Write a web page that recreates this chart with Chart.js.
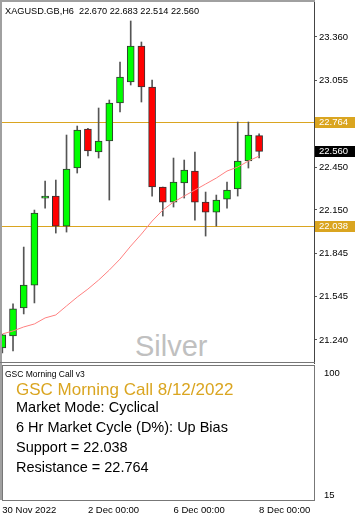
<!DOCTYPE html>
<html>
<head>
<meta charset="utf-8">
<script src="https://cdn.jsdelivr.net/npm/chart.js@4.4.1/dist/chart.umd.min.js"></script>
<style>
  html, body { margin: 0; padding: 0; background: #fff; }
  #wrap { position: relative; width: 355px; height: 516px; overflow: hidden; font-family: "Liberation Sans", Arial, sans-serif; }
  canvas { position: absolute; left: 0; }
  .t { position: absolute; white-space: nowrap; }
</style>
</head>
<body>
<div id="wrap">
  <div class="t" style="left:135px; top:331px; font-size:29px; line-height:30px; color:#c0c0c0;">Silver</div>
  <canvas id="price" width="355" height="364" style="top:0"></canvas>
  <canvas id="ind" width="355" height="152" style="top:364px"></canvas>
  <div class="t" style="left:5px; top:5px; font-size:9.2px; line-height:12px; color:#000;">XAGUSD.GB,H6&nbsp; 22.670 22.683 22.514 22.560</div>
  <div class="t" style="left:5px; top:369px; font-size:8.5px; line-height:10px; color:#000;">GSC Morning Call v3</div>
  <div class="t" style="left:16px; top:380px; font-size:17px; line-height:20px; color:#DAA520;">GSC Morning Call 8/12/2022</div>
  <div class="t" style="left:16px; top:397px; font-size:14.5px; line-height:20px; color:#000;">Market Mode: Cyclical</div>
  <div class="t" style="left:16px; top:417px; font-size:14.5px; line-height:20px; color:#000;">6 Hr Market Cycle (D%): Up Bias</div>
  <div class="t" style="left:16px; top:437px; font-size:14.5px; line-height:20px; color:#000;">Support = 22.038</div>
  <div class="t" style="left:16px; top:457px; font-size:14.5px; line-height:20px; color:#000;">Resistance = 22.764</div>
</div>
<script>
// XAGUSD H6 candles, 30 Nov - 8 Dec 2022
const opens  = [21.184, 21.268, 21.464, 21.624, 22.233, 22.247, 22.037, 22.443, 22.716, 22.555, 22.632, 22.898, 23.045,
                23.297, 23.010, 22.310, 22.205, 22.338, 22.422, 22.205, 22.135, 22.226, 22.296, 22.492, 22.670];
const highs  = [21.280, 21.492, 21.890, 22.149, 22.352, 22.359, 22.674, 22.737, 22.720, 22.863, 22.919, 23.185, 23.472,
                23.325, 23.059, 22.310, 22.513, 22.499, 22.555, 22.275, 22.254, 22.345, 22.765, 22.765, 22.683];
const lows   = [21.149, 21.163, 21.422, 21.499, 22.163, 21.988, 21.995, 22.408, 22.527, 22.513, 22.219, 22.835, 23.024,
                22.905, 22.247, 22.107, 22.170, 22.233, 22.079, 21.967, 22.037, 22.163, 22.247, 22.443, 22.514];
const closes = [21.275, 21.457, 21.624, 22.128, 22.247, 22.037, 22.436, 22.709, 22.562, 22.632, 22.898, 23.080, 23.297,
                23.010, 22.310, 22.205, 22.345, 22.429, 22.205, 22.135, 22.219, 22.289, 22.492, 22.674, 22.560];
// moving average (red line)
const maValues = [21.282, 21.303, 21.331, 21.352, 21.394, 21.415, 21.478, 21.540, 21.596, 21.659, 21.729, 21.806, 21.897,
                  21.981, 22.072, 22.149, 22.205, 22.247, 22.289, 22.331, 22.373, 22.422, 22.450, 22.492, 22.527];

const priceTicks = [23.360, 23.055, 22.450, 22.150, 21.845, 21.545, 21.240];
const timeTickIdx = [0, 8, 16, 24];
const timeTickLabels = ['30 Nov 2022', '2 Dec 00:00', '6 Dec 00:00', '8 Dec 00:00'];
const indTicks = [100, 15];

const resistance = 22.764;
const support = 22.038;
const lastPrice = 22.560;

const GOLD = '#DAA520';
const FONT = 'Liberation Sans';
const X_MIN = -0.03, X_MAX = 29.13;

const bodies = opens.map((o, i) => ({ x: i, y: [o, closes[i]] }));
const wicks = lows.map((l, i) => ({ x: i, y: [l, highs[i]] }));
const ma = maValues.map((v, i) => ({ x: i, y: v }));
const bodyColors = opens.map((o, i) => closes[i] >= o ? '#00FF00' : '#FF0000');

// keep the plot area where layout.padding puts it
function noPad(s) {
  s.paddingTop = 0; s.paddingBottom = 0; s.paddingLeft = 0; s.paddingRight = 0;
}

// support / resistance lines + price boxes on the axis
const levelsPlugin = {
  id: 'levels',
  beforeDatasetsDraw(chart) {
    const { ctx, chartArea, scales } = chart;
    ctx.save();
    ctx.strokeStyle = GOLD;
    ctx.lineWidth = 1;
    [resistance, support].forEach(v => {
      const y = Math.round(scales.y.getPixelForValue(v)) + 0.5;
      ctx.beginPath();
      ctx.moveTo(chartArea.left, y);
      ctx.lineTo(chartArea.right, y);
      ctx.stroke();
    });
    ctx.restore();
  },
  afterDraw(chart) {
    const { ctx, scales } = chart;
    ctx.save();
    ctx.font = '9.5px ' + FONT;
    ctx.textBaseline = 'middle';
    [[resistance, GOLD], [lastPrice, '#000'], [support, GOLD]].forEach(([v, c]) => {
      const y = Math.round(scales.y.getPixelForValue(v));
      ctx.fillStyle = c;
      ctx.fillRect(315, y - 5, 40, 11);
      ctx.fillStyle = '#fff';
      ctx.fillText(v.toFixed(3), 319, y + 0.5);
    });
    // window frame
    ctx.strokeStyle = '#a0a0a0';
    ctx.lineWidth = 2;
    ctx.beginPath();
    ctx.moveTo(1, 364); ctx.lineTo(1, 1); ctx.lineTo(315, 1);
    ctx.stroke();
    ctx.lineWidth = 1;
    ctx.strokeStyle = '#777';
    ctx.beginPath();
    ctx.moveTo(0, 362.5); ctx.lineTo(315, 362.5);
    ctx.stroke();
    ctx.restore();
  }
};

new Chart(document.getElementById('price'), {
  type: 'bar',
  data: {
    datasets: [
      { type: 'line', data: ma, borderColor: '#FF8080', borderWidth: 1, pointRadius: 0, tension: 0, order: -1 },
      { data: bodies, backgroundColor: bodyColors, borderColor: '#333', borderWidth: 1, borderSkipped: false,
        barThickness: 7, grouped: false, order: 0 },
      { data: wicks, backgroundColor: '#555', borderWidth: 0, barThickness: 1, grouped: false, order: 1 }
    ]
  },
  options: {
    responsive: false,
    animation: false,
    events: [],
    layout: { padding: { left: 2, top: 2, right: 0, bottom: 1 } },
    plugins: { legend: { display: false }, tooltip: { enabled: false } },
    scales: {
      x: { type: 'linear', display: false, min: X_MIN, max: X_MAX, offset: false },
      y: {
        position: 'right', min: 21.0787, max: 23.6049,
        afterFit(s) { s.width = 41; noPad(s); },
        afterBuildTicks(s) { s.ticks = priceTicks.map(v => ({ value: v })); },
        ticks: { callback: v => v.toFixed(3), font: { family: FONT, size: 9.5 }, color: '#000', padding: 2 },
        grid: { drawOnChartArea: false, tickLength: 3, color: '#555' },
        border: { color: '#444' }
      }
    }
  },
  plugins: [levelsPlugin]
});

const indFramePlugin = {
  id: 'indFrame',
  afterDraw(chart) {
    const { ctx, chartArea } = chart;
    ctx.save();
    ctx.strokeStyle = '#777';
    ctx.lineWidth = 1;
    ctx.strokeRect(2.5, chartArea.top + 0.5, chartArea.right - 2, chartArea.bottom - chartArea.top);
    ctx.strokeStyle = '#a0a0a0';
    ctx.lineWidth = 2;
    ctx.beginPath();
    ctx.moveTo(1, 0); ctx.lineTo(1, chartArea.bottom);
    ctx.stroke();
    ctx.restore();
  }
};

new Chart(document.getElementById('ind'), {
  type: 'line',
  data: { datasets: [{ data: [], borderWidth: 0, pointRadius: 0 }] },
  options: {
    responsive: false,
    animation: false,
    events: [],
    layout: { padding: { left: 2, top: 1, right: 0, bottom: 0 } },
    plugins: { legend: { display: false }, tooltip: { enabled: false } },
    scales: {
      x: {
        type: 'linear', min: X_MIN, max: X_MAX, offset: false,
        afterFit(s) { s.height = 16; noPad(s); },
        afterBuildTicks(s) { s.ticks = timeTickIdx.map(v => ({ value: v })); },
        ticks: {
          callback: (v) => timeTickLabels[timeTickIdx.indexOf(v)],
          align: 'start', autoSkip: false, maxRotation: 0,
          font: { family: FONT, size: 9.5 }, color: '#000', padding: -3
        },
        grid: { display: false },
        border: { color: '#777' }
      },
      y: {
        position: 'right', min: 11.5, max: 105.6,
        afterFit(s) { s.width = 41; noPad(s); },
        afterBuildTicks(s) { s.ticks = indTicks.map(v => ({ value: v })); },
        ticks: { font: { family: FONT, size: 9.5 }, color: '#000', padding: 2 },
        grid: { display: false },
        border: { color: '#777' }
      }
    }
  },
  plugins: [indFramePlugin]
});
</script>
</body>
</html>
